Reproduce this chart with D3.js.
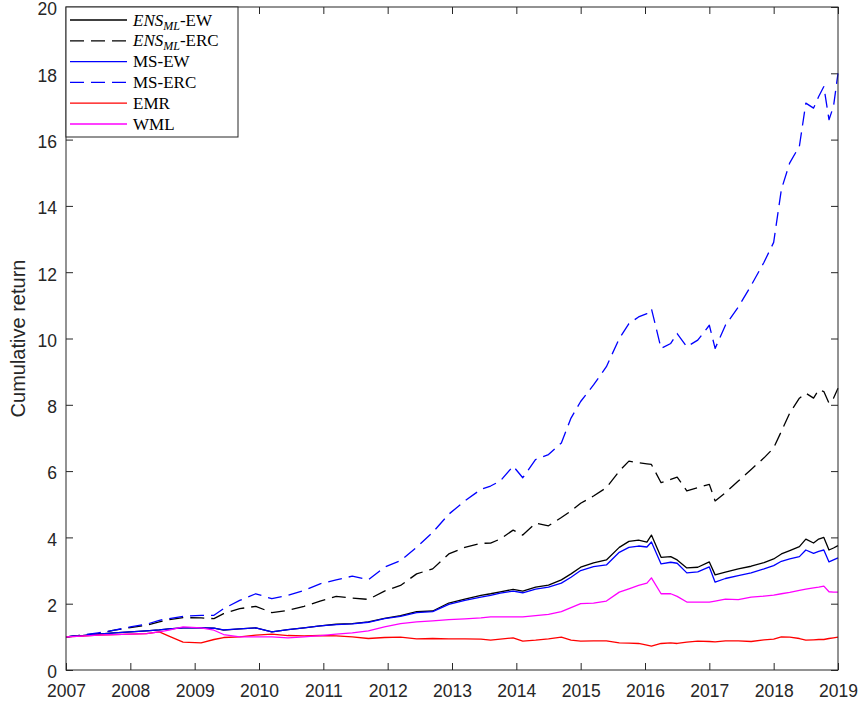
<!DOCTYPE html>
<html>
<head>
<meta charset="utf-8">
<script src="https://cdn.jsdelivr.net/npm/d3@7"></script>
<style>
  body { margin: 0; background: #fff; }
  svg { display: block; }
</style>
</head>
<body>
<div id="chart"></div>
<script>
// dates in decimal years, shared by all series
var dates = [
    2007.0, 2007.25, 2007.5, 2007.75,
    2008.0, 2008.25, 2008.45, 2008.6, 2008.82,
    2009.1, 2009.3, 2009.45, 2009.7, 2009.95,
    2010.2, 2010.45, 2010.7, 2010.95,
    2011.2, 2011.45, 2011.7, 2011.95,
    2012.2, 2012.45, 2012.7, 2012.95,
    2013.2, 2013.45, 2013.6, 2013.75, 2013.95,
    2014.1, 2014.3, 2014.5, 2014.7, 2014.85,
    2015.0, 2015.2, 2015.4, 2015.6, 2015.75, 2015.9,
    2016.03, 2016.1, 2016.25, 2016.4, 2016.5, 2016.65, 2016.82,
    2017.0, 2017.09, 2017.25, 2017.45, 2017.65, 2017.85,
    2018.0, 2018.12, 2018.25, 2018.4, 2018.5, 2018.62, 2018.7, 2018.78, 2018.86, 2018.93,
    2019.0
];

var ensEw = [
    1.0, 1.04, 1.08, 1.12,
    1.15, 1.18, 1.21, 1.24, 1.27,
    1.27, 1.26, 1.2, 1.24, 1.27,
    1.15, 1.22, 1.27, 1.33,
    1.38, 1.4, 1.45, 1.56,
    1.64, 1.76, 1.78, 2.02,
    2.14, 2.25, 2.3, 2.36, 2.43,
    2.38, 2.5, 2.56, 2.72, 2.9,
    3.1, 3.23, 3.32, 3.7, 3.88, 3.92,
    3.86, 4.07, 3.4, 3.42, 3.32, 3.08, 3.1,
    3.26, 2.87, 2.95, 3.05, 3.13, 3.24,
    3.35, 3.5, 3.6, 3.72, 3.95, 3.83, 3.95, 4.0, 3.62, 3.68,
    3.75
];

var ensErc = [
    1.0, 1.05, 1.1, 1.2,
    1.28, 1.35, 1.45, 1.52, 1.58,
    1.57, 1.55, 1.7, 1.85, 1.92,
    1.73, 1.8, 1.92, 2.08,
    2.22, 2.17, 2.13, 2.38,
    2.55, 2.9, 3.05, 3.5,
    3.7, 3.82, 3.83, 3.95, 4.22,
    4.07, 4.43, 4.35, 4.6, 4.8,
    5.03, 5.25, 5.5, 6.0, 6.3, 6.25,
    6.22, 6.2, 5.65, 5.75, 5.82, 5.4, 5.5,
    5.6, 5.1, 5.35, 5.7, 6.05, 6.4,
    6.7, 7.2, 7.75, 8.2, 8.35, 8.2, 8.45, 8.4, 8.05, 8.2,
    8.5
];

var msEw = [
    1.0, 1.04, 1.08, 1.12,
    1.15, 1.18, 1.21, 1.24, 1.27,
    1.27, 1.26, 1.21, 1.24, 1.27,
    1.15, 1.22, 1.27, 1.33,
    1.37, 1.39, 1.44, 1.55,
    1.62, 1.73, 1.76, 1.98,
    2.1, 2.2, 2.25, 2.32, 2.38,
    2.33, 2.44, 2.5, 2.62, 2.8,
    3.0, 3.12, 3.17, 3.55, 3.7, 3.74,
    3.71, 3.86, 3.2, 3.25, 3.22, 2.93, 2.96,
    3.11, 2.65, 2.76, 2.85, 2.93, 3.05,
    3.15, 3.28, 3.35, 3.42, 3.62, 3.52, 3.58, 3.62, 3.26, 3.32,
    3.38
];

var msErc = [
    1.0, 1.05, 1.12, 1.2,
    1.3, 1.38, 1.5, 1.55, 1.62,
    1.65, 1.65, 1.85, 2.1, 2.3,
    2.15, 2.25, 2.4, 2.6,
    2.72, 2.83, 2.72, 3.1,
    3.3, 3.7, 4.15, 4.7,
    5.1, 5.45, 5.55, 5.7, 6.15,
    5.8, 6.35, 6.5, 6.85, 7.6,
    8.1, 8.6, 9.15, 10.0, 10.45, 10.65,
    10.75, 10.9, 9.7, 9.85, 10.15, 9.75, 9.95,
    10.4, 9.7, 10.4, 10.95, 11.6, 12.3,
    12.9, 14.5, 15.3, 15.8, 17.1, 16.95, 17.3, 17.6, 16.6, 17.0,
    18.0
];

var emr = [
    1.0, 1.02, 1.05, 1.07,
    1.08, 1.1, 1.15, 1.02, 0.84,
    0.82, 0.92, 0.98, 1.0, 1.05,
    1.08, 1.04, 1.03, 1.04,
    1.03, 1.0, 0.95, 0.98,
    0.99, 0.94, 0.95, 0.94,
    0.94, 0.93, 0.9, 0.93, 0.97,
    0.87, 0.9, 0.94, 0.99, 0.9,
    0.87, 0.88, 0.88, 0.82, 0.81, 0.8,
    0.75, 0.72, 0.8, 0.82, 0.8, 0.84, 0.87,
    0.86, 0.85, 0.88, 0.88, 0.86, 0.91,
    0.93, 1.0, 0.99, 0.95, 0.9, 0.91, 0.92, 0.92, 0.95, 0.97,
    0.99
];

var wml = [
    1.0, 1.02, 1.05, 1.07,
    1.08, 1.1, 1.15, 1.2, 1.3,
    1.27, 1.2, 1.07, 1.0, 1.0,
    1.0, 0.97, 1.0, 1.04,
    1.08, 1.12, 1.18, 1.3,
    1.4, 1.45, 1.48, 1.52,
    1.54, 1.57, 1.6, 1.6, 1.6,
    1.6, 1.64, 1.68, 1.76, 1.88,
    2.0, 2.02, 2.08, 2.35, 2.45, 2.55,
    2.62, 2.78, 2.3, 2.3, 2.22, 2.05, 2.05,
    2.05, 2.08, 2.14, 2.12, 2.2, 2.23,
    2.26, 2.3, 2.34, 2.4, 2.44, 2.48, 2.5, 2.53, 2.36, 2.35,
    2.35
];

var xTicks = [2007, 2008, 2009, 2010, 2011, 2012, 2013, 2014, 2015, 2016, 2017, 2018, 2019];
var yTicks = [0, 2, 4, 6, 8, 10, 12, 14, 16, 18, 20];

var series = [
    {name: 'ENS_ML-EW', values: ensEw, color: '#000000', dash: null},
    {name: 'ENS_ML-ERC', values: ensErc, color: '#000000', dash: '14,7'},
    {name: 'MS-EW', values: msEw, color: '#0000ff', dash: null},
    {name: 'MS-ERC', values: msErc, color: '#0000ff', dash: '14,7'},
    {name: 'EMR', values: emr, color: '#ff0000', dash: null},
    {name: 'WML', values: wml, color: '#ff00ff', dash: null}
];

var outerWidth = 861, outerHeight = 706;
var margin = {top: 7, right: 23, bottom: 36, left: 66},
    width = outerWidth - margin.left - margin.right,
    height = outerHeight - margin.top - margin.bottom;
var axisColor = '#262626';

var x = d3.scaleLinear().domain([2007, 2019]).range([0, width]);
var y = d3.scaleLinear().domain([0, 20]).range([height, 0]);

var svg = d3.select('#chart').append('svg')
    .attr('width', outerWidth)
    .attr('height', outerHeight)
    .append('g')
    .attr('transform', 'translate(' + margin.left + ',' + margin.top + ')');

// axes, ticks inward on all four sides (matlab box)
function styleAxis(g) {
    g.select('.domain').remove();
    g.selectAll('line').attr('stroke', axisColor).attr('stroke-width', 1);
    g.selectAll('text').attr('fill', axisColor)
        .style('font-family', 'Liberation Sans, Arial, sans-serif')
        .style('font-size', '17.5px');
}

svg.append('g')
    .attr('transform', 'translate(0,' + height + ')')
    .call(d3.axisBottom(x).tickValues(xTicks).tickFormat(d3.format('d')).tickSizeInner(-7).tickPadding(15))
    .call(styleAxis);

svg.append('g')
    .call(d3.axisTop(x).tickValues(xTicks).tickFormat('').tickSizeInner(-7))
    .call(styleAxis);

svg.append('g')
    .call(d3.axisLeft(y).tickValues(yTicks).tickFormat(d3.format('d')).tickSizeInner(-7).tickPadding(9))
    .call(styleAxis)
    .selectAll('text').attr('dy', '0.45em');

svg.append('g')
    .attr('transform', 'translate(' + width + ',0)')
    .call(d3.axisRight(y).tickValues(yTicks).tickFormat('').tickSizeInner(-7))
    .call(styleAxis);

// lines
var line = d3.line()
    .x(function (d, i) { return x(dates[i]); })
    .y(function (d) { return y(d); });

svg.selectAll('.series')
    .data(series)
    .enter().append('path')
    .attr('class', 'series')
    .attr('d', function (d) { return line(d.values); })
    .attr('fill', 'none')
    .attr('stroke', function (d) { return d.color; })
    .attr('stroke-width', 1.3)
    .attr('stroke-dasharray', function (d) { return d.dash; })
    .attr('stroke-linejoin', 'round');

// box
svg.append('rect')
    .attr('width', width)
    .attr('height', height)
    .attr('fill', 'none')
    .attr('stroke', axisColor)
    .attr('stroke-width', 1);

// y label
svg.append('text')
    .attr('transform', 'translate(' + (25 - margin.left) + ',' + (height / 2) + ') rotate(-90)')
    .attr('text-anchor', 'middle')
    .attr('fill', axisColor)
    .style('font-family', 'Liberation Sans, Arial, sans-serif')
    .style('font-size', '20px')
    .text('Cumulative return');

// legend
var legend = svg.append('g');
var rowH = 20.8;

legend.append('rect')
    .attr('x', 0)
    .attr('y', 0)
    .attr('width', 172)
    .attr('height', 130)
    .attr('fill', '#fff')
    .attr('stroke', axisColor)
    .attr('stroke-width', 1);

var rows = legend.selectAll('.row')
    .data(series)
    .enter().append('g')
    .attr('class', 'row')
    .attr('transform', function (d, i) { return 'translate(0,' + (13 + i * rowH) + ')'; });

rows.append('line')
    .attr('x1', 4)
    .attr('x2', 61)
    .attr('stroke', function (d) { return d.color; })
    .attr('stroke-width', 1.3)
    .attr('stroke-dasharray', function (d) { return d.dash; });

var labels = rows.append('text')
    .attr('x', 67)
    .attr('y', 5.5)
    .attr('fill', '#000')
    .style('font-family', 'Liberation Serif, Times New Roman, serif')
    .style('font-size', '17px');

labels.each(function (d) {
    var t = d3.select(this);
    if (d.name.indexOf('ENS_ML') === 0) {
        t.append('tspan').style('font-style', 'italic').text('ENS');
        t.append('tspan').style('font-style', 'italic').style('font-size', '12px').attr('dy', 4).text('ML');
        t.append('tspan').attr('dy', -4).text(d.name.replace('ENS_ML', ''));
    } else {
        t.text(d.name);
    }
});
</script>
</body>
</html>
